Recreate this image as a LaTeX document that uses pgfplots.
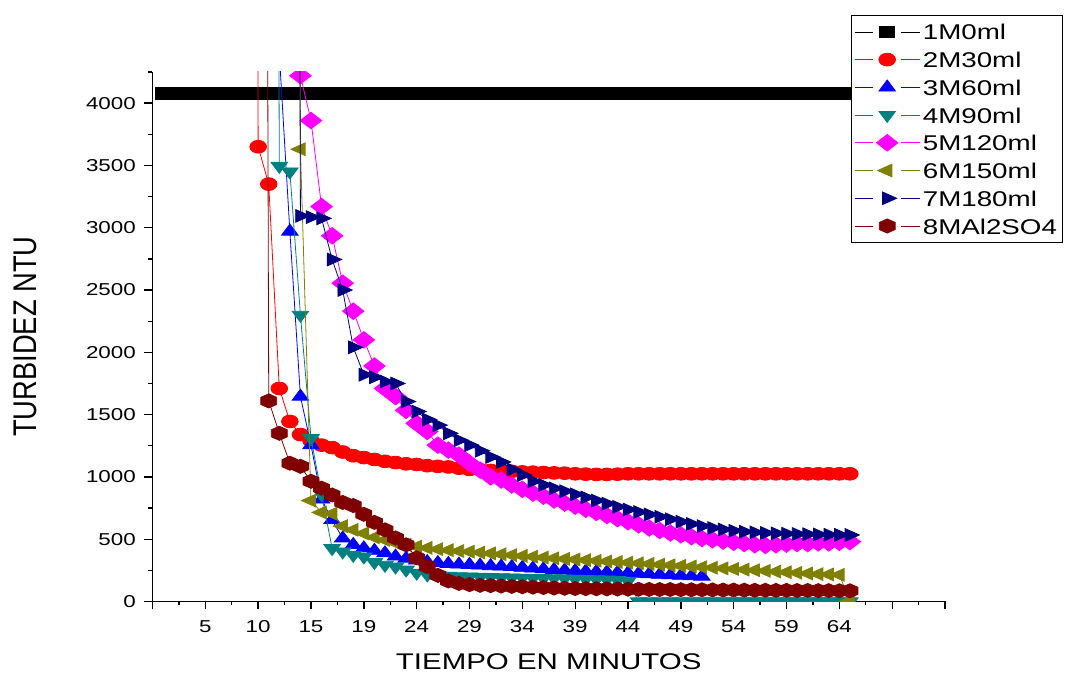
\documentclass[border=0pt]{standalone}
\usepackage{fontspec}
\setmainfont{Liberation Sans}
\usepackage{graphicx}
\usepackage{pgfplots}
\pgfplotsset{compat=1.18}
\definecolor{cRed}{RGB}{255,0,0}
\definecolor{cBlue}{RGB}{0,0,255}
\definecolor{cTeal}{RGB}{0,128,128}
\definecolor{cMag}{RGB}{255,0,255}
\definecolor{cOlive}{RGB}{128,128,0}
\definecolor{cNavy}{RGB}{0,0,128}
\definecolor{cWine}{RGB}{128,0,0}
\pgfdeclareplotmark{hexagon*}{%
  \pgfpathmoveto{\pgfpointpolar{90}{\pgfplotmarksize}}%
  \pgfpathlineto{\pgfpointpolar{150}{\pgfplotmarksize}}%
  \pgfpathlineto{\pgfpointpolar{210}{\pgfplotmarksize}}%
  \pgfpathlineto{\pgfpointpolar{270}{\pgfplotmarksize}}%
  \pgfpathlineto{\pgfpointpolar{330}{\pgfplotmarksize}}%
  \pgfpathlineto{\pgfpointpolar{30}{\pgfplotmarksize}}%
  \pgfpathclose
  \pgfusepathqfillstroke}
\begin{document}
\begin{tikzpicture}
\path[use as bounding box] (0pt,0pt) rectangle (804pt,506.25pt);
\begin{axis}[
  at={(114.375pt,55.125pt)}, anchor=south west,
  scale only axis, width=594.375pt, height=397.125pt,
  xmin=0, xmax=75, ymin=0, ymax=4250,
  axis x line=bottom, axis y line=left,
  axis line style={-, line width=1.2pt},
  tick align=outside, tick style={black, line width=1pt},
  major tick length=6pt, minor tick length=3pt,
  xtick={0,5,...,75},
  xticklabels={,5,10,15,19,24,29,34,39,44,49,54,59,64,,},
  minor x tick num=1,
  ytick={0,500,...,4000}, minor y tick num=1,
  extra y ticks={4250}, extra y tick labels={},
  extra y tick style={major tick length=3pt},
  scaled y ticks=false,
  /pgf/number format/1000 sep={},
  /pgf/number format/assume math mode=true,
  every tick label/.append style={font=\fontsize{12.9}{15}\selectfont, xscale=1.3},
  yticklabel style={xshift=-1.5pt},
  xticklabel style={yshift=-5pt},
  every axis x label/.style={at={(axis description cs:0.5,-0.1143)}, anchor=center},
  every axis y label/.style={at={(axis description cs:-0.1609,0.5)}, rotate=90, anchor=center},
  xlabel={\fontsize{17}{20}\selectfont\scalebox{1.3}[1]{TIEMPO EN MINUTOS}},
  ylabel={\fontsize{20.5}{24}\selectfont\scalebox{1}[1.2]{TURBIDEZ NTU}},
  clip marker paths=true,
  legend cell align=left,
  legend style={at={(axis description cs:0.8814,1.108)}, anchor=north west,
    draw=black, line width=0.8pt, font=\fontsize{16}{19}\selectfont,
    row sep=0pt, inner xsep=2pt, inner ysep=2pt,
    nodes={inner ysep=4.4pt, text height=12pt, text depth=0pt}},
  legend image code/.code={%
    \draw[#1, line width=0.5pt] (0pt,0pt) -- (14pt,0pt);
    \draw[#1, line width=0.5pt] (35pt,0pt) -- (49pt,0pt);
    \draw[#1] plot coordinates {(24.5pt,0pt)};},
]
\addplot[black, line width=0.6pt, mark=square*, mark size=4.3pt, mark options={xscale=1.3}] coordinates {
(1,4080)(2,4080)(3,4080)(4,4080)(5,4080)(6,4080)(7,4080)(8,4080)(9,4080)(10,4080)
(11,4080)(12,4080)(13,4080)(14,4080)(15,4080)(16,4080)(17,4080)(18,4080)(19,4080)(20,4080)
(21,4080)(22,4080)(23,4080)(24,4080)(25,4080)(26,4080)(27,4080)(28,4080)(29,4080)(30,4080)
(31,4080)(32,4080)(33,4080)(34,4080)(35,4080)(36,4080)(37,4080)(38,4080)(39,4080)(40,4080)
(41,4080)(42,4080)(43,4080)(44,4080)(45,4080)(46,4080)(47,4080)(48,4080)(49,4080)(50,4080)
(51,4080)(52,4080)(53,4080)(54,4080)(55,4080)(56,4080)(57,4080)(58,4080)(59,4080)(60,4080)
(61,4080)(62,4080)(63,4080)(64,4080)(65,4080)(66,4080)};
\addlegendentry{\scalebox{1.3}[1]{1M0ml}}
\addplot[cRed, line width=0.6pt, mark=*, mark size=4.8pt, mark options={xscale=1.3}] coordinates {
(9,30000)(10,3650)(11,3350)(12,1710)(13,1445)(14,1340)(15,1290)(16,1255)(17,1235)(18,1200)
(19,1170)(20,1155)(21,1140)(22,1125)(23,1115)(24,1105)(25,1100)(26,1090)(27,1085)(28,1080)
(29,1070)(30,1060)(31,1058)(32,1052)(33,1048)(34,1045)(35,1040)(36,1038)(37,1035)(38,1032)
(39,1030)(40,1025)(41,1022)(42,1020)(43,1020)(44,1022)(45,1025)(46,1025)(47,1025)(48,1025)
(49,1025)(50,1025)(51,1025)(52,1025)(53,1025)(54,1025)(55,1025)(56,1025)(57,1025)(58,1025)
(59,1025)(60,1025)(61,1025)(62,1025)(63,1025)(64,1025)(65,1025)(66,1025)};
\addlegendentry{\scalebox{1.3}[1]{2M30ml}}
\addplot[cBlue, line width=0.6pt, mark=triangle*, mark size=5.5pt, mark options={xscale=1.3}] coordinates {
(11,30000)(12,4400)(13,2970)(14,1645)(15,1255)(16,820)(17,655)(18,507)(19,455)(20,428)
(21,408)(22,388)(23,362)(24,345)(25,330)(26,318)(27,310)(28,303)(29,298)(30,295)
(31,290)(32,285)(33,282)(34,278)(35,272)(36,266)(37,260)(38,255)(39,250)(40,246)
(41,242)(42,238)(43,234)(44,231)(45,228)(46,224)(47,220)(48,216)(49,212)(50,208)
(51,204)(52,200)};
\addlegendentry{\scalebox{1.3}[1]{3M60ml}}
\addplot[cTeal, line width=0.6pt, mark=triangle*, mark size=5.5pt, mark options={xscale=1.3, rotate=180}] coordinates {
(11,30000)(12,3495)(13,3450)(14,2300)(15,1310)(16,860)(17,427)(18,400)(19,373)(20,360)
(21,315)(22,293)(23,279)(24,255)(25,230)(26,215)(27,210)(28,206)(29,202)(30,200)
(31,198)(32,196)(33,194)(34,192)(35,190)(36,188)(37,187)(38,186)(39,184)(40,182)
(41,180)(42,178)(43,176)(44,172)(45,165)(46,0)(47,0)(48,0)(49,0)(50,0)
(51,0)(52,0)(53,0)(54,0)(55,0)(56,0)(57,0)(58,0)(59,0)(60,0)
(61,0)(62,0)(63,0)(64,0)(65,0)(66,0)};
\addlegendentry{\scalebox{1.3}[1]{4M90ml}}
\addplot[cMag, line width=0.6pt, mark=square*, mark size=4.4pt, mark options={xscale=1.3, rotate=45}] coordinates {
(13,5500)(14,4220)(15,3860)(16,3170)(17,2935)(18,2555)(19,2330)(20,2100)(21,1890)(22,1710)
(23,1645)(24,1535)(25,1430)(26,1365)(27,1255)(28,1215)(29,1175)(30,1110)(31,1055)(32,1000)
(33,975)(34,935)(35,900)(36,870)(37,845)(38,815)(39,790)(40,765)(41,740)(42,715)
(43,690)(44,665)(45,640)(46,615)(47,590)(48,570)(49,550)(50,535)(51,520)(52,505)
(53,495)(54,485)(55,475)(56,465)(57,455)(58,450)(59,455)(60,460)(61,465)(62,465)
(63,470)(64,470)(65,475)(66,480)};
\addlegendentry{\scalebox{1.3}[1]{5M120ml}}
\addplot[cOlive, line width=0.6pt, mark=triangle*, mark size=5.5pt, mark options={xscale=1.3, rotate=90}] coordinates {
(13,30000)(14,3630)(15,810)(16,715)(17,705)(18,605)(19,575)(20,547)(21,515)(22,494)
(23,470)(24,455)(25,440)(26,430)(27,420)(28,412)(29,405)(30,400)(31,393)(32,386)
(33,379)(34,372)(35,366)(36,360)(37,353)(38,347)(39,342)(40,337)(41,332)(42,327)
(43,322)(44,317)(45,312)(46,307)(47,302)(48,296)(49,291)(50,286)(51,281)(52,276)
(53,271)(54,266)(55,261)(56,256)(57,251)(58,246)(59,240)(60,235)(61,230)(62,225)
(63,220)(64,217)(65,214)(66,5)};
\addlegendentry{\scalebox{1.3}[1]{6M150ml}}
\addplot[cNavy, line width=0.6pt, mark=triangle*, mark size=5.5pt, mark options={xscale=1.3, rotate=-90}] coordinates {
(13,30000)(14,3095)(15,3085)(16,3075)(17,2745)(18,2500)(19,2040)(20,1820)(21,1800)(22,1765)
(23,1750)(24,1605)(25,1525)(26,1460)(27,1415)(28,1350)(29,1295)(30,1255)(31,1210)(32,1160)
(33,1120)(34,1060)(35,1015)(36,965)(37,935)(38,908)(39,885)(40,860)(41,835)(42,810)
(43,785)(44,760)(45,738)(46,718)(47,698)(48,680)(49,660)(50,640)(51,622)(52,605)
(53,590)(54,578)(55,568)(56,560)(57,555)(58,550)(59,547)(60,544)(61,542)(62,540)
(63,538)(64,536)(65,535)(66,534)};
\addlegendentry{\scalebox{1.3}[1]{7M180ml}}
\addplot[cWine, line width=0.6pt, mark=hexagon*, mark size=5.3pt, mark options={xscale=1.3}] coordinates {
(10,30000)(11,1610)(12,1350)(13,1110)(14,1085)(15,965)(16,910)(17,855)(18,795)(19,770)
(20,700)(21,635)(22,575)(23,510)(24,455)(25,350)(26,280)(27,210)(28,165)(29,145)
(30,135)(31,130)(32,127)(33,124)(34,121)(35,118)(36,115)(37,112)(38,108)(39,106)
(40,104)(41,103)(42,102)(43,101)(44,100)(45,99)(46,98)(47,97)(48,96)(49,96)
(50,95)(51,94)(52,94)(53,93)(54,92)(55,92)(56,91)(57,90)(58,90)(59,89)
(60,89)(61,88)(62,88)(63,87)(64,87)(65,86)(66,86)};
\addlegendentry{\scalebox{1.3}[1]{8MAl2SO4}}
\end{axis}
\end{tikzpicture}
\end{document}
